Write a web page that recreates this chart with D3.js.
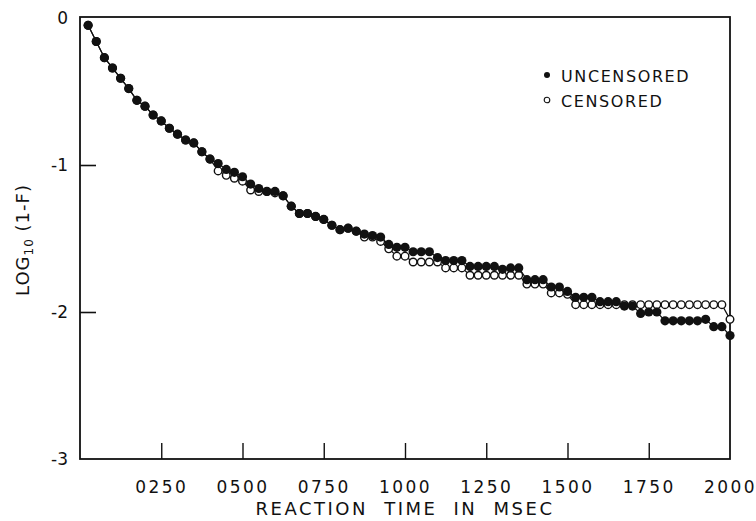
<!DOCTYPE html>
<html>
<head>
<meta charset="utf-8">
<script src="https://cdn.jsdelivr.net/npm/d3@7"></script>
<style>
  body { margin: 0; background: #fff; }
  text { font-family: "DejaVu Sans", sans-serif; fill: #111; }
</style>
</head>
<body>
<div id="chart"></div>
<script>
// reaction times, msec (one point every 25 msec)
var times = d3.range(25, 2001, 25);

// log10(1-F)
var uncensored = [
  -0.05, -0.16, -0.27, -0.34, -0.41, -0.48, -0.56, -0.60, -0.66, -0.70,
  -0.75, -0.79, -0.83, -0.85, -0.91, -0.96, -0.99, -1.03, -1.05, -1.08,
  -1.13, -1.16, -1.18, -1.18, -1.21, -1.28, -1.33, -1.33, -1.35, -1.37,
  -1.41, -1.44, -1.43, -1.45, -1.47, -1.48, -1.49, -1.54, -1.56, -1.56,
  -1.59, -1.59, -1.59, -1.63, -1.65, -1.65, -1.65, -1.69, -1.69, -1.69,
  -1.69, -1.71, -1.70, -1.70, -1.78, -1.78, -1.78, -1.83, -1.83, -1.86,
  -1.90, -1.90, -1.90, -1.93, -1.93, -1.93, -1.96, -1.96, -2.01, -2.00,
  -2.00, -2.06, -2.06, -2.06, -2.06, -2.06, -2.05, -2.10, -2.10, -2.16
];
var censored = [
  -0.05, -0.16, -0.27, -0.34, -0.41, -0.48, -0.56, -0.60, -0.66, -0.70,
  -0.75, -0.79, -0.83, -0.85, -0.91, -0.96, -1.04, -1.07, -1.09, -1.11,
  -1.17, -1.18, -1.18, -1.19, -1.21, -1.28, -1.33, -1.33, -1.35, -1.37,
  -1.41, -1.44, -1.43, -1.45, -1.49, -1.49, -1.52, -1.57, -1.62, -1.62,
  -1.66, -1.66, -1.66, -1.66, -1.70, -1.70, -1.70, -1.75, -1.75, -1.75,
  -1.75, -1.75, -1.75, -1.75, -1.81, -1.81, -1.81, -1.87, -1.87, -1.88,
  -1.95, -1.95, -1.95, -1.95, -1.95, -1.95, -1.95, -1.95, -1.95, -1.95,
  -1.95, -1.95, -1.95, -1.95, -1.95, -1.95, -1.95, -1.95, -1.95, -2.05
];

var xTicks = [250, 500, 750, 1000, 1250, 1500, 1750, 2000];
var yTicks = [0, -1, -2, -3];
var legendLabels = ["UNCENSORED", "CENSORED"];

var width = 756, height = 521;
var svg = d3.select("#chart").append("svg")
    .attr("width", width)
    .attr("height", height);

var x = d3.scaleLinear().domain([0, 2000]).range([80, 730]);
var y = d3.scaleLinear().domain([0, -3]).range([18, 459]);

// y axis (ticks point inward)
var yAxis = svg.append("g")
    .attr("transform", "translate(" + x(0) + ",0)")
    .call(d3.axisLeft(y).tickValues(yTicks).tickSizeInner(-16).tickSizeOuter(0).tickPadding(12)
        .tickFormat(function (d) { return d === 0 ? "0" : "-" + Math.abs(d); }));
yAxis.select(".domain").remove();
yAxis.selectAll(".tick line").attr("stroke", "#111").attr("stroke-width", 1.6)
    .filter(function (d) { return d === 0 || d === -3; }).remove();
yAxis.selectAll(".tick text").attr("font-size", 17).attr("font-family", "DejaVu Sans");

// x axis
var xAxis = svg.append("g")
    .attr("transform", "translate(0," + y(-3) + ")")
    .call(d3.axisBottom(x).tickValues(xTicks).tickSizeInner(-16).tickSizeOuter(0).tickPadding(22)
        .tickFormat(d3.format("04d")));
xAxis.select(".domain").remove();
xAxis.selectAll(".tick line").attr("stroke", "#111").attr("stroke-width", 1.4)
    .filter(function (d) { return d === 2000; }).remove();
xAxis.selectAll(".tick text").attr("font-size", 17).attr("font-family", "DejaVu Sans")
    .attr("letter-spacing", 2.5);

// frame
svg.append("rect")
    .attr("x", x(0)).attr("y", y(0) - 1)
    .attr("width", x(2000) - x(0)).attr("height", y(-3) - y(0) + 1)
    .attr("fill", "none").attr("stroke", "#111").attr("stroke-width", 1.8);

var line = d3.line()
    .x(function (d) { return x(d[0]); })
    .y(function (d) { return y(d[1]); });

var censData = d3.zip(times, censored);
var uncData = d3.zip(times, uncensored);

svg.append("path").datum(censData).attr("d", line)
    .attr("fill", "none").attr("stroke", "#111").attr("stroke-width", 1.2);
svg.append("path").datum(uncData).attr("d", line)
    .attr("fill", "none").attr("stroke", "#111").attr("stroke-width", 1.2);

svg.append("g").selectAll("circle").data(censData).enter().append("circle")
    .attr("cx", function (d) { return x(d[0]); })
    .attr("cy", function (d) { return y(d[1]); })
    .attr("r", 3.8)
    .attr("fill", "#fff").attr("stroke", "#111").attr("stroke-width", 1.4);

svg.append("g").selectAll("circle").data(uncData).enter().append("circle")
    .attr("cx", function (d) { return x(d[0]); })
    .attr("cy", function (d) { return y(d[1]); })
    .attr("r", 4.6)
    .attr("fill", "#111");

// legend
var legend = svg.append("g").attr("transform", "translate(547,75)");
legend.append("circle").attr("cx", 0).attr("cy", 0).attr("r", 3).attr("fill", "#111");
legend.append("circle").attr("cx", 0).attr("cy", 25).attr("r", 2.8)
    .attr("fill", "#fff").attr("stroke", "#111").attr("stroke-width", 1.1);
legend.selectAll("text").data(legendLabels).enter().append("text")
    .attr("x", 14)
    .attr("y", function (d, i) { return i * 25 + 6.5; })
    .attr("font-size", 16)
    .attr("letter-spacing", 1.6)
    .text(function (d) { return d; });

// axis titles
svg.append("text")
    .attr("x", (x(0) + x(2000)) / 2)
    .attr("y", 515)
    .attr("text-anchor", "middle")
    .attr("font-size", 18)
    .attr("letter-spacing", 2.5)
    .attr("word-spacing", 8)
    .text("REACTION TIME IN MSEC");

var yTitle = svg.append("text")
    .attr("transform", "translate(29,240) rotate(-90)")
    .attr("text-anchor", "middle")
    .attr("font-size", 18)
    .attr("letter-spacing", 1);
yTitle.append("tspan").text("LOG");
yTitle.append("tspan").attr("font-size", 12).attr("dy", 4).text("10");
yTitle.append("tspan").attr("dy", -4).text(" (1-F)");
</script>
</body>
</html>
